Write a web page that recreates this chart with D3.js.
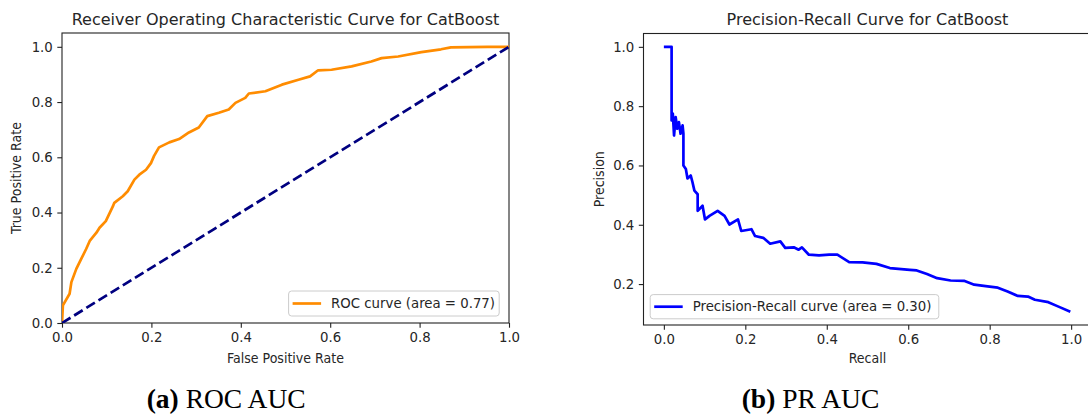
<!DOCTYPE html>
<html>
<head>
<meta charset="utf-8">
<script src="https://cdn.jsdelivr.net/npm/d3@7"></script>
<style>
  body { margin: 0; background: #fff; }
  svg { display: block; }
  text { font-family: "DejaVu Sans", sans-serif; fill: #262626; }
  .lab { font-family: "DejaVu Sans Condensed", "DejaVu Sans", sans-serif; font-stretch: condensed; }
  .cap { font-family: "Liberation Serif", serif; fill: #000; }
</style>
</head>
<body>
<svg id="fig" width="1088" height="417"></svg>
<script>
// ROC curve points (false positive rate, true positive rate)
var roc_fpr = [0, 0.002, 0.017, 0.021, 0.032, 0.043, 0.054, 0.062, 0.077, 0.084, 0.098, 0.114, 0.117,
  0.136, 0.147, 0.162, 0.173, 0.188, 0.199, 0.206, 0.217, 0.240, 0.262, 0.284, 0.306, 0.325,
  0.351, 0.373, 0.388, 0.410, 0.418, 0.455, 0.492, 0.529, 0.555, 0.573, 0.603, 0.648, 0.692,
  0.715, 0.752, 0.804, 0.848, 0.870, 0.952, 1.0];
var roc_tpr = [0, 0.064, 0.106, 0.148, 0.196, 0.232, 0.268, 0.297, 0.327, 0.345, 0.369, 0.423, 0.435,
  0.459, 0.477, 0.519, 0.537, 0.555, 0.579, 0.605, 0.636, 0.654, 0.666, 0.690, 0.708, 0.749,
  0.761, 0.773, 0.797, 0.815, 0.831, 0.839, 0.863, 0.881, 0.893, 0.915, 0.917, 0.929, 0.947,
  0.959, 0.965, 0.981, 0.991, 0.998, 1.0, 1.0];
var roc_auc = "0.77";

// precision-recall curve points
var pr_recall = [0, 0.019, 0.019, 0.022, 0.025, 0.029, 0.033, 0.037, 0.041, 0.046, 0.048, 0.048,
  0.054, 0.058, 0.066, 0.070, 0.075, 0.083, 0.083, 0.095, 0.101, 0.112, 0.132, 0.149, 0.161,
  0.182, 0.190, 0.215, 0.224, 0.244, 0.261, 0.286, 0.298, 0.319, 0.331, 0.339, 0.356, 0.381,
  0.406, 0.426, 0.455, 0.488, 0.522, 0.555, 0.604, 0.621, 0.646, 0.671, 0.704, 0.737, 0.762,
  0.795, 0.820, 0.844, 0.869, 0.894, 0.911, 0.944, 0.969, 0.998];
var pr_precision = [1.0, 1.0, 0.752, 0.775, 0.701, 0.763, 0.724, 0.746, 0.707, 0.735, 0.707, 0.600,
  0.588, 0.556, 0.566, 0.545, 0.515, 0.503, 0.447, 0.464, 0.418, 0.430, 0.447, 0.430, 0.401,
  0.418, 0.379, 0.385, 0.362, 0.356, 0.336, 0.344, 0.322, 0.324, 0.316, 0.324, 0.299, 0.297,
  0.299, 0.299, 0.274, 0.273, 0.268, 0.254, 0.248, 0.246, 0.234, 0.220, 0.212, 0.211, 0.198,
  0.192, 0.188, 0.175, 0.160, 0.158, 0.147, 0.139, 0.124, 0.107];
var pr_auc = "0.30";

var tick_vals = [0, 0.2, 0.4, 0.6, 0.8, 1.0];
var pr_yticks = [0.2, 0.4, 0.6, 0.8, 1.0];

var svg = d3.select("#fig");

// draws one matplotlib-ish axes box and returns the scales
function make_axes(o){
  var g = svg.append("g");
  var x = d3.scaleLinear().domain(o.xdom).range([o.left, o.right]);
  var y = d3.scaleLinear().domain(o.ydom).range([o.bottom, o.top]);

  var fmt = d3.format(".1f");
  g.append("g").attr("transform", "translate(0," + o.bottom + ")")
    .call(d3.axisBottom(x).tickValues(o.xticks).tickFormat(fmt).tickSize(4.7).tickPadding(4.5).tickSizeOuter(0))
    .call(style_axis);
  g.append("g").attr("transform", "translate(" + o.left + ",0)")
    .call(d3.axisLeft(y).tickValues(o.yticks).tickFormat(fmt).tickSize(4.7).tickPadding(4.5).tickSizeOuter(0))
    .call(style_axis);

  g.append("rect")
    .attr("x", o.left).attr("y", o.top)
    .attr("width", o.right - o.left).attr("height", o.bottom - o.top)
    .attr("fill", "none").attr("stroke", "#222").attr("stroke-width", 1.1);

  var cx = (o.left + o.right) / 2;
  g.append("text").attr("x", cx).attr("y", 25)
    .attr("text-anchor", "middle").style("font-size", "16px").text(o.title);
  g.append("text").attr("class", "lab").attr("x", cx).attr("y", 362.5)
    .attr("text-anchor", "middle").style("font-size", "14px")
    .text(o.xlabel);
  var cy = (o.top + o.bottom) / 2;
  g.append("text").attr("class", "lab").attr("transform", "translate(" + o.ylx + "," + cy + ") rotate(-90)")
    .attr("text-anchor", "middle").attr("dy", "0.35em")
    .style("font-size", "14px").text(o.ylabel);

  g.append("clipPath").attr("id", o.id)
    .append("rect").attr("x", o.left).attr("y", o.top)
    .attr("width", o.right - o.left).attr("height", o.bottom - o.top);

  return {g: g, x: x, y: y};
}

function style_axis(sel){
  sel.select(".domain").remove();
  sel.selectAll(".tick line").attr("stroke", "#222").attr("stroke-width", 1.1);
  sel.selectAll(".tick text").style("font-size", "13.3px").attr("fill", "#262626");
}

function legend(g, x0, y0, w, h, color, label){
  g.append("rect").attr("x", x0).attr("y", y0).attr("width", w).attr("height", h)
    .attr("rx", 3).attr("fill", "#fff").attr("fill-opacity", 0.8)
    .attr("stroke", "#cccccc").attr("stroke-width", 1);
  g.append("line").attr("x1", x0 + 4).attr("x2", x0 + 32.5)
    .attr("y1", y0 + h / 2).attr("y2", y0 + h / 2)
    .attr("stroke", color).attr("stroke-width", 2.7);
  g.append("text").attr("x", x0 + 42.5).attr("y", y0 + h / 2).attr("dy", "0.36em")
    .style("font-size", "13.3px").text(label);
}

// (a) ROC
var a = make_axes({
  id: "clipA", left: 62, right: 509, top: 33, bottom: 323,
  xdom: [0, 1], ydom: [0, 1.05], xticks: tick_vals, yticks: tick_vals,
  title: "Receiver Operating Characteristic Curve for CatBoost",
  xlabel: "False Positive Rate", ylabel: "True Positive Rate", ylx: 16
});

var roc_pts = roc_fpr.map(function(f, i){ return [f, roc_tpr[i]]; });
var lineA = d3.line().x(function(d){ return a.x(d[0]); }).y(function(d){ return a.y(d[1]); });

a.g.append("path").datum(roc_pts).attr("d", lineA)
  .attr("clip-path", "url(#clipA)")
  .attr("fill", "none").attr("stroke", "#ff8c00").attr("stroke-width", 2.7)
  .attr("stroke-linejoin", "round");
a.g.append("path").datum([[0, 0], [1, 1]]).attr("d", lineA)
  .attr("clip-path", "url(#clipA)")
  .attr("fill", "none").attr("stroke", "#000080").attr("stroke-width", 2.7)
  .attr("stroke-dasharray", "10,4.3");

legend(a.g, 288.6, 291, 210.6, 25, "#ff8c00", "ROC curve (area = " + roc_auc + ")");

// (b) precision-recall
var b = make_axes({
  id: "clipB", left: 643.5, right: 1091.5, top: 33.5, bottom: 325,
  xdom: [-0.05, 1.05], ydom: [0.062, 1.045], xticks: tick_vals, yticks: pr_yticks,
  title: "Precision-Recall Curve for CatBoost",
  xlabel: "Recall", ylabel: "Precision", ylx: 599
});

var pr_pts = pr_recall.map(function(r, i){ return [r, pr_precision[i]]; });
var lineB = d3.line().x(function(d){ return b.x(d[0]); }).y(function(d){ return b.y(d[1]); });
b.g.append("path").datum(pr_pts).attr("d", lineB)
  .attr("clip-path", "url(#clipB)")
  .attr("fill", "none").attr("stroke", "#0000ff").attr("stroke-width", 2.7)
  .attr("stroke-linejoin", "round");

legend(b.g, 650.2, 294.6, 288.6, 24.2, "#0000ff", "Precision-Recall curve (area = " + pr_auc + ")");

// sub-figure captions
var caps = [{x: 146.7, lab: "(a)", rest: " ROC AUC"}, {x: 741.7, lab: "(b)", rest: " PR AUC"}];
caps.forEach(function(c){
  var t = svg.append("text").attr("class", "cap").attr("x", c.x).attr("y", 408)
    .style("font-size", "27.5px");
  t.append("tspan").style("font-weight", "bold").text(c.lab);
  t.append("tspan").text(c.rest);
});
</script>
</body>
</html>
